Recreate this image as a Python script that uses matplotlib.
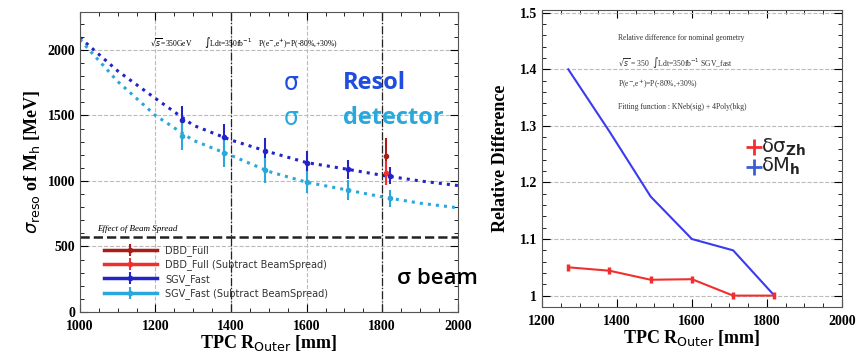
import matplotlib.pyplot as plt
from matplotlib.ticker import MultipleLocator
from matplotlib.lines import Line2D

# --- left panel data (sigma_reso of M_h) ---
r_outer = [1270, 1380, 1490, 1600, 1710, 1820]
sgv_fast = [1462, 1332, 1230, 1140, 1088, 1038]
sgv_fast_err = [110, 105, 95, 85, 75, 65]
sgv_sub = [1346, 1215, 1080, 990, 930, 868]
sgv_sub_err = [110, 105, 95, 85, 75, 65]
dbd_r = [1810]
dbd_full = [1190]
dbd_full_err = [135]
dbd_sub = [1060]
dbd_sub_err = [90]

fit_x = [1000, 1100, 1200, 1300, 1400, 1500, 1600, 1700, 1800, 1900, 2000]
fit_fast = [2095, 1840, 1630, 1425, 1312, 1222, 1140, 1093, 1043, 1000, 965]
fit_sub = [2080, 1760, 1500, 1310, 1195, 1072, 990, 935, 878, 830, 795]
beam_spread = 570

legend_labels = ['DBD_Full', 'DBD_Full (Subtract BeamSpread)', 'SGV_Fast', 'SGV_Fast (Subtract BeamSpread)']

# --- right panel data (relative difference) ---
rd_x = [1270, 1380, 1490, 1600, 1710, 1820]
rd_mh = [1.40, 1.29, 1.175, 1.10, 1.08, 1.00]
rd_szh = [1.05, 1.044, 1.028, 1.029, 1.0, 1.0]
rd_szh_err = [0.006, 0.006, 0.006, 0.006, 0.006, 0.006]

c_dred = '#a81c1c'
c_red = '#f03030'
c_blue = '#2323c8'
c_cyan = '#2aa8dc'

plt.rcParams['font.family'] = ['Liberation Serif', 'DejaVu Serif']
fig = plt.figure(figsize=(8.59, 3.54), dpi=100)

def root_style(ax):
    ax.tick_params(which='both', direction='in', top=True, right=True, labelsize=10)
    ax.tick_params(which='major', length=6)
    ax.tick_params(which='minor', length=3)
    ax.tick_params(axis='x', pad=6)
    for lab in ax.get_xticklabels() + ax.get_yticklabels():
        lab.set_fontweight('bold')
    for sp in ax.spines.values():
        sp.set_color('#555555')

# ---------------- left panel ----------------
ax1 = fig.add_axes([0.093, 0.119, 0.440, 0.847])
ax1.plot(fit_x, fit_fast, ':', color=c_blue, lw=2.2)
ax1.plot(fit_x, fit_sub, ':', color=c_cyan, lw=2.2)
ax1.errorbar(dbd_r, dbd_full, yerr=dbd_full_err, fmt='o', ms=3, color=c_dred, lw=1.5)
ax1.errorbar(dbd_r, dbd_sub, yerr=dbd_sub_err, fmt='o', ms=3, color=c_red, lw=1.5)
ax1.errorbar(r_outer, sgv_fast, yerr=sgv_fast_err, fmt='o', ms=3, color=c_blue, lw=1.5)
ax1.errorbar(r_outer, sgv_sub, yerr=sgv_sub_err, fmt='o', ms=3, color=c_cyan, lw=1.5)
ax1.axhline(beam_spread, color='#222222', ls='--', lw=1.8)
ax1.axvline(1400, color='#222222', ls='-.', lw=0.9)
ax1.axvline(1800, color='#222222', ls='-.', lw=0.9)
ax1.set_xlim(1000, 2000)
ax1.set_ylim(0, 2290)
ax1.xaxis.set_major_locator(MultipleLocator(200))
ax1.xaxis.set_minor_locator(MultipleLocator(50))
ax1.yaxis.set_major_locator(MultipleLocator(500))
ax1.yaxis.set_minor_locator(MultipleLocator(100))
ax1.grid(True, which='major', color='#bbbbbb', ls='--', lw=0.8)
root_style(ax1)
ax1.set_xlabel(r'TPC R$_{\mathrm{Outer}}$ [mm]', fontsize=13, fontweight='bold', labelpad=0)
ax1.set_ylabel(r'$\sigma_{\mathrm{reso}}$ of M$_{\mathrm{h}}$ [MeV]', fontsize=13, fontweight='bold', labelpad=4)
ax1.text(1185, 2060, r'$\sqrt{s}$=350GeV       $\int$Ldt=350fb$^{-1}$    P(e$^{-}$,e$^{+}$)=P(-80%,+30%)',
         fontsize=5.5, va='center')
ax1.text(1045, 600, 'Effect of Beam Spread', fontsize=6.5, style='italic', va='bottom')
handles = [(Line2D([], [], color=c, lw=2.5, marker='o', ms=3),
            Line2D([], [], color=c, marker='|', ms=8, mew=1.5, ls='none'))
           for c in (c_dred, c_red, c_blue, c_cyan)]
ax1.legend(handles, legend_labels, loc='upper left', bbox_to_anchor=(0.04, 0.252), frameon=False,
           handlelength=5.5, labelspacing=0.35, handletextpad=0.8, labelcolor='#333333',
           prop={'family': 'DejaVu Sans', 'size': 7})
ax1.text(1540, 1746, 'σ', color='#1f4de0', fontsize=17, family='DejaVu Sans', va='center')
ax1.text(1695, 1746, 'Resol', color='#1f4de0', fontsize=17, fontweight='bold', family='Open Sans', va='center')
ax1.text(1540, 1477, 'σ', color=c_cyan, fontsize=17, family='DejaVu Sans', va='center')
ax1.text(1695, 1477, 'detector', color=c_cyan, fontsize=17, fontweight='bold', family='Open Sans', va='center')
ax1.text(1840, 255, 'σ beam', color='black', fontsize=16, family='Open Sans', fontweight='semibold',
         va='center', clip_on=False)

# ---------------- right panel ----------------
ax2 = fig.add_axes([0.631, 0.133, 0.349, 0.839])
ax2.plot(rd_x, rd_mh, '-', color='#3a3af0', lw=1.5)
ax2.errorbar(rd_x, rd_szh, yerr=rd_szh_err, fmt='-', color=c_red, lw=1.5, capsize=0, elinewidth=2.5)
ax2.set_xlim(1200, 2000)
ax2.set_ylim(0.98, 1.505)
ax2.xaxis.set_major_locator(MultipleLocator(200))
ax2.xaxis.set_minor_locator(MultipleLocator(50))
ax2.yaxis.set_minor_locator(MultipleLocator(0.02))
ax2.set_yticks([1.0, 1.1, 1.2, 1.3, 1.4, 1.5])
ax2.set_yticklabels(['1', '1.1', '1.2', '1.3', '1.4', '1.5'])
ax2.grid(True, which='major', axis='y', color='#bbbbbb', ls='--', lw=0.8)
root_style(ax2)
ax2.set_xlabel(r'TPC R$_{\mathrm{Outer}}$ [mm]', fontsize=13, fontweight='bold', labelpad=0)
ax2.set_ylabel('Relative Difference', fontsize=13, fontweight='bold', labelpad=8)
ax2.text(1403, 1.456, 'Relative difference for nominal geometry', fontsize=5.5, color='#333333', va='center')
ax2.text(1403, 1.412, r'$\sqrt{s}$ = 350  $\int$Ldt=350fb$^{-1}$ SGV_fast', fontsize=5.5, color='#333333', va='center')
ax2.text(1403, 1.374, r'P(e$^{-}$,e$^{+}$)=P(-80%,+30%)', fontsize=5.5, color='#333333', va='center')
ax2.text(1403, 1.333, 'Fitting function : KNeb(sig) + 4Poly(bkg)', fontsize=5.5, color='#333333', va='center')
ax2.plot([1765], [1.262], marker='+', ms=11, mew=2, color=c_red)
ax2.text(1785, 1.262, r'δσ$_{\mathbf{Zh}}$', fontsize=14, color='#222222', va='center',
         family='DejaVu Sans')
ax2.plot([1765], [1.228], marker='+', ms=11, mew=2, color='#3a5fd0')
ax2.text(1785, 1.228, r'δM$_{\mathbf{h}}$', fontsize=14, color='#222222', va='center',
         family='DejaVu Sans')

fig.savefig('out.png', dpi=100)
